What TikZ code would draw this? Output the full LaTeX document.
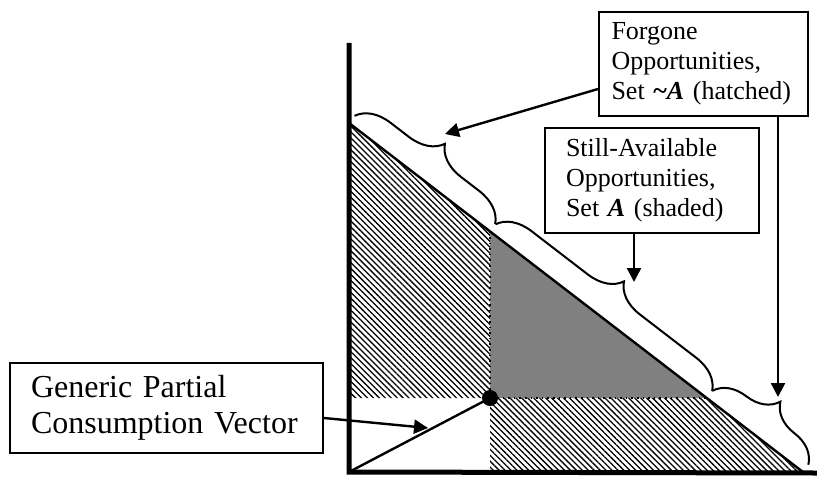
\documentclass[tikz,border=0pt]{standalone}
\usepackage{fontspec}
\setmainfont{Liberation Serif}
\usetikzlibrary{arrows.meta,positioning,decorations.pathreplacing,patterns.meta,calc}

\begin{document}
\begin{tikzpicture}[x=0.5pt, y=-0.5pt,
  box/.style={rectangle, draw, line width=1pt, anchor=north west,
              align=left, text width=#1, inner xsep=10pt, inner ysep=0pt,
              font=\fontsize{13}{15}\selectfont},
  box/.default={86pt},
  arrow/.style={-{Triangle[length=7pt, width=7pt]}, line width=1.2pt},
  hatch/.style={pattern={Lines[angle=-45, distance=2.1pt, line width=0.65pt]}},
  bracket/.style={decorate, decoration={brace, amplitude=16.5pt, raise=4.5pt},
                  line width=1pt},
  guide/.style={dotted, line width=0.8pt}
]
  \useasboundingbox (0,0) rectangle (817,476);

  % Axes and budget line points
  \coordinate (O) at (349,472);
  \coordinate (ytop) at (349,43);
  \coordinate (xend) at (817,473);
  \coordinate (b1) at (349,123);
  \coordinate (b2) at (803,472);
  \coordinate (P) at (490,398);
  \coordinate (Q) at (490,231.4);
  \coordinate (R) at (706.7,398);

  % Regions
  \fill[hatch] (b1) -- (Q) -- (P) -- (P -| O) -- cycle;
  \fill[hatch] (P) -- (R) -- (b2) -- (P |- O) -- cycle;
  \fill[black!50] (Q) -- (R) -- (P) -- cycle;

  % Lines
  \draw[line width=1.2pt] (b1) -- (b2);
  \draw[guide] (Q) -- (P) -- (R);
  \draw[line width=1.2pt] (O) -- (P);
  \draw[line width=2.5pt] (ytop) -- (O) -- (xend);
  \fill (P) circle (4pt);

  % Braces
  \draw[bracket] (b1) -- (Q);
  \draw[bracket] (Q) -- (R);
  \draw[bracket] (R) -- (b2);

  % Boxes
  \node[box=92pt, inner xsep=6.25pt, minimum height=52pt] (forgone) at (598,11) {
    Forgone \\
    Opportunities, \\
    Set \textbf{\textasciitilde\textit{A}} (hatched)
  };
  \node[box=86pt, inner xsep=10.5pt, minimum height=52.5pt] (avail) at (544,127) {
    Still-Available \\
    Opportunities, \\
    Set \textbf{\textit{A}} (shaded)
  };
  \node[box=135.5pt, inner xsep=10.5pt, minimum height=45pt,
        font=\fontsize{16}{18}\selectfont] (gen) at (9,362) {
    Generic Partial \\
    Consumption Vector
  };

  % Arrows
  \coordinate (tipF) at (445,134);
  \coordinate (tipFd) at (778,397);
  \coordinate (tipA) at (634,282);
  \coordinate (tipG) at (428,428);
  \draw[arrow] ([yshift=-12.5pt]forgone.west) -- (tipF);
  \draw[arrow] (forgone.south -| tipFd) -- (tipFd);
  \draw[arrow] (avail.south -| tipA) -- (tipA);
  \draw[arrow] ([yshift=-5pt]gen.east) -- (tipG);
\end{tikzpicture}
\end{document}
